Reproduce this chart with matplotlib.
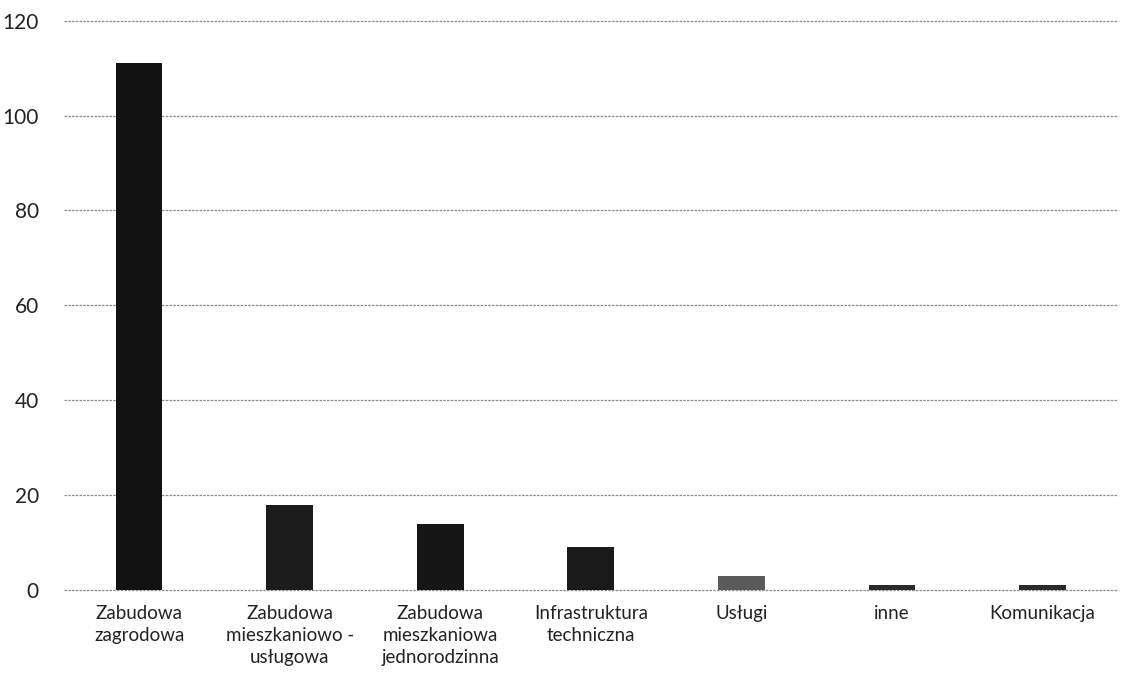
import numpy as np
import matplotlib.pyplot as plt

# land-use categories and counts
categories = [
    'Zabudowa\nzagrodowa',
    'Zabudowa\nmieszkaniowo -\nusługowa',
    'Zabudowa\nmieszkaniowa\njednorodzinna',
    'Infrastruktura\ntechniczna',
    'Usługi',
    'inne',
    'Komunikacja',
]
counts = [111, 18, 14, 9, 3, 1, 1]
bar_colors = ['#121212', '#1c1c1c', '#161616', '#1a1a1a', '#5a5a5a', '#2a2a2a', '#2a2a2a']
y_ticks = [0, 20, 40, 60, 80, 100, 120]

plt.rcParams['font.family'] = ['Lato', 'DejaVu Sans']

fig = plt.figure(figsize=(11.21, 6.90), dpi=100)
ax = fig.add_axes([0.057, 0.145, 0.940, 0.825])

x = np.arange(len(categories))
ax.bar(x, counts, width=0.31, color=bar_colors, zorder=3)

ax.set_ylim(0, 120)
ax.set_xlim(-0.5, len(categories) - 0.5)
ax.set_yticks(y_ticks)
ax.set_xticks(x)
ax.set_xticklabels(categories, fontsize=13.5, color='#222222', linespacing=1.35)
ax.tick_params(axis='y', labelsize=15, labelcolor='#222222', length=0, pad=18)
ax.tick_params(axis='x', length=0, pad=11)

# dotted horizontal gridlines, including the baseline
ax.yaxis.grid(True, color='#8a8a8a', linewidth=0.9, linestyle=(0, (2, 1)), zorder=0)
for gl in ax.get_ygridlines():
    gl.set_clip_on(False)
ax.set_axisbelow(True)
for side in ax.spines.values():
    side.set_visible(False)

fig.savefig('out.png', dpi=100)
